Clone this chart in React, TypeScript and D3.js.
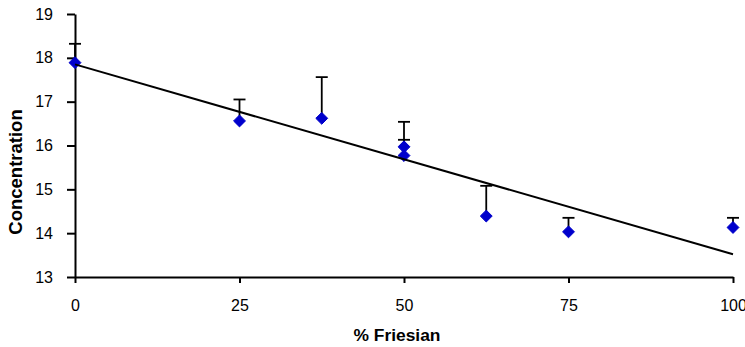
import React, { useEffect, useRef } from 'react';
import * as d3 from 'd3';

// % Friesian for each group
const pctFriesian = [0, 25, 37.5, 50, 50, 62.5, 75, 100];
// mean concentration
const concentration = [17.89, 16.56, 16.62, 15.97, 15.77, 14.39, 14.03, 14.13];
// upper error bar length
const errorUp = [0.43, 0.49, 0.94, 0.57, 0.36, 0.69, 0.32, 0.22];

// linear trend line
const trendX = [0, 100];
const trendY = [17.85, 13.52];

const xTicks = [0, 25, 50, 75, 100];
const yTicks = [13, 14, 15, 16, 17, 18, 19];

const W = 745;
const H = 347;
const FONT = '"Liberation Sans", Arial, sans-serif';

const App = () => {
  const svgRef = useRef<SVGSVGElement>(null);

  useEffect(() => {
    const svg = d3.select(svgRef.current);
    svg.selectAll('*').remove();

    const x = d3.scaleLinear().domain([0, 100]).range([75, 733]);
    const y = d3.scaleLinear().domain([13, 19]).range([277, 14]);

    // y axis
    const yAxis = svg.append('g')
      .attr('transform', `translate(${x(0)},0)`)
      .call(d3.axisLeft(y).tickValues(yTicks).tickFormat(d3.format('d')).tickSize(8).tickSizeOuter(0).tickPadding(14));
    yAxis.select('.domain').attr('stroke', '#000').attr('stroke-width', 2);
    yAxis.selectAll('.tick line').attr('stroke', '#000').attr('stroke-width', 2);
    yAxis.selectAll('.tick text')
      .attr('fill', '#000')
      .style('font-family', FONT)
      .style('font-size', '16px');

    // x axis
    const xAxis = svg.append('g')
      .attr('transform', `translate(0,${y(13)})`)
      .call(d3.axisBottom(x).tickValues(xTicks).tickSize(6).tickSizeOuter(0).tickPadding(17));
    xAxis.select('.domain').attr('stroke', '#000').attr('stroke-width', 2);
    xAxis.selectAll('.tick line').attr('stroke', '#000').attr('stroke-width', 2);
    xAxis.selectAll('.tick text')
      .attr('fill', '#000')
      .style('font-family', FONT)
      .style('font-size', '16px');

    // axis titles
    svg.append('text')
      .attr('x', 397)
      .attr('y', 341)
      .attr('text-anchor', 'middle')
      .style('font-family', FONT)
      .style('font-size', '17.4px')
      .style('font-weight', 'bold')
      .text('% Friesian');

    svg.append('text')
      .attr('transform', 'translate(22,172) rotate(-90)')
      .attr('text-anchor', 'middle')
      .style('font-family', FONT)
      .style('font-size', '18.5px')
      .style('font-weight', 'bold')
      .text('Concentration');

    const pts = pctFriesian.map((p, i) => ({ p, c: concentration[i], e: errorUp[i] }));

    // error bars (upper only)
    const eb = svg.append('g').attr('stroke', '#000').attr('stroke-width', 1.8);
    eb.selectAll('line.v')
      .data(pts)
      .join('line')
      .attr('class', 'v')
      .attr('x1', d => x(d.p))
      .attr('x2', d => x(d.p))
      .attr('y1', d => y(d.c))
      .attr('y2', d => y(d.c + d.e));
    eb.selectAll('line.cap')
      .data(pts)
      .join('line')
      .attr('class', 'cap')
      .attr('x1', d => x(d.p) - 6)
      .attr('x2', d => x(d.p) + 6)
      .attr('y1', d => y(d.c + d.e))
      .attr('y2', d => y(d.c + d.e));

    // markers
    svg.append('g')
      .selectAll('path')
      .data(pts)
      .join('path')
      .attr('transform', d => `translate(${x(d.p)},${y(d.c)})`)
      .attr('d', d3.symbol(d3.symbolDiamond2, 90)())
      .attr('fill', '#0000cc')
      .attr('stroke', '#0000cc')
      .attr('stroke-width', 1);

    // trend line
    const line = d3.line<number>()
      .x(d => x(d))
      .y((d, i) => y(trendY[i]));
    svg.append('path')
      .datum(trendX)
      .attr('d', line)
      .attr('fill', 'none')
      .attr('stroke', '#000')
      .attr('stroke-width', 2);
  }, []);

  return (
    <svg
      ref={svgRef}
      width={W}
      height={H}
      style={{ position: 'absolute', left: 0, top: 0, background: '#fff' }}
    />
  );
};

export default App;
